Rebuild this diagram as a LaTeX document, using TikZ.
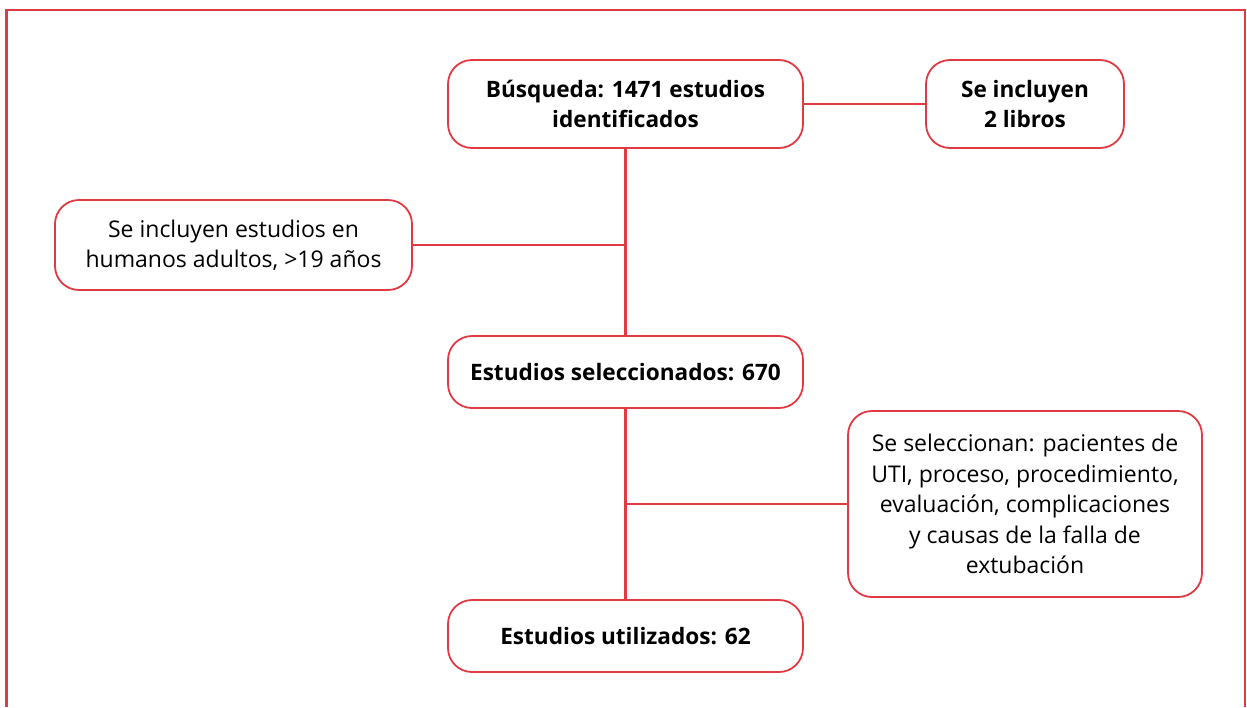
\documentclass[tikz,border=0pt]{standalone}
\usepackage{fontspec}
\setmainfont{Open Sans}
\usepackage{tikz}
\usetikzlibrary{positioning, calc}
\definecolor{flowred}{RGB}{226,58,66}
\tikzset{
    box/.style={draw=flowred, line width=1.8pt, rounded corners=24pt, fill=white,
        align=center, inner sep=0pt, font=\fontsize{23}{30.5}\selectfont},
    boldbox/.style={box, font=\fontsize{22.6}{30.5}\selectfont\bfseries},
    link/.style={draw=flowred, line width=2.6pt},
}

\begin{document}
\begin{tikzpicture}[x=1pt,y=-1pt]
    \useasboundingbox (0,0) rectangle (1247,707);
    % outer frame, open at the bottom
    \draw[flowred, line width=2.6pt] (6.5,707) -- (6.5,10) -- (1245,10) -- (1245,707);

    \node[boldbox, minimum width=355pt, minimum height=88pt] (search) at (625.5,104) {Búsqueda: 1471 estudios\\identificados};
    \node[boldbox, minimum width=198pt, minimum height=88pt] (books) at (1025,104) {Se incluyen\\2 libros};
    \node[box, minimum width=357pt, minimum height=90pt] (adults) at (233.5,245) {Se incluyen estudios en\\humanos adultos, >19 años};
    \node[boldbox, minimum width=355pt, minimum height=72pt] (selected) at (625.5,372) {Estudios seleccionados: 670};
    \node[box, minimum width=354pt, minimum height=186pt] (criteria) at (1025,504) {Se seleccionan: pacientes de\\UTI, proceso, procedimiento,\\evaluación, complicaciones\\y causas de la falla de\\extubación};
    \node[boldbox, minimum width=355pt, minimum height=72pt] (used) at (625.5,636) {Estudios utilizados: 62};

    \coordinate (j1) at (search.south |- adults.east);
    \coordinate (j2) at (selected.south |- criteria.west);

    \path[link]
        (search) -- (books)
        (search) -- (selected)
        (adults) -- (j1)
        (selected) -- (used)
        (j2) -- (criteria)
    ;
\end{tikzpicture}
\end{document}
